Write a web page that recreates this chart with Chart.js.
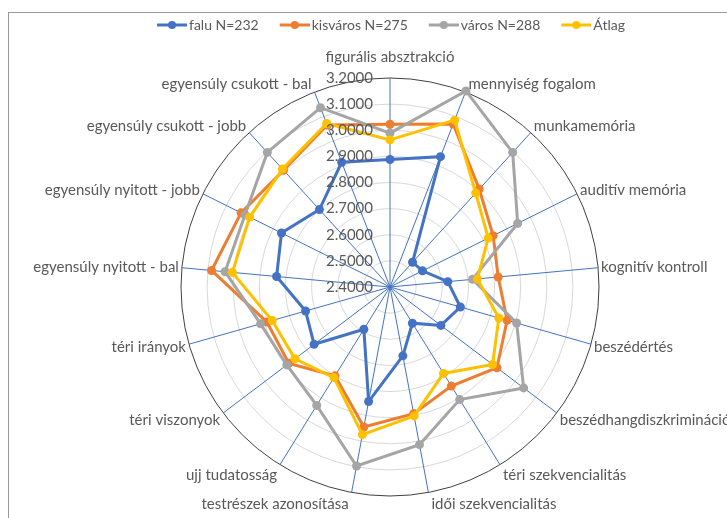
<!DOCTYPE html>
<html><head><meta charset="utf-8">
<script src="https://cdn.jsdelivr.net/npm/chart.js@4"></script>
<style>html,body{margin:0;padding:0;background:#fff}#wrap{width:727px;height:518px;position:relative}</style>
</head><body><div id="wrap"><canvas id="c"></canvas></div>
<script>
const categories = [
  'figurális absztrakció','mennyiség fogalom','munkamemória','auditív memória',
  'kognitív kontroll','beszédértés','beszédhangdiszkrimináció','téri szekvencialitás',
  'idői szekvencialitás','testrészek azonosítása','ujj tudatosság','téri viszonyok',
  'téri irányok','egyensúly nyitott - bal','egyensúly nyitott - jobb',
  'egyensúly csukott - jobb','egyensúly csukott - bal'
];
const faluValues     = [2.888, 2.935, 2.528, 2.539, 2.622, 2.680, 2.644, 2.563, 2.668, 2.846, 2.590, 2.764, 2.736, 2.836, 2.864, 2.801, 2.912];
const kisvarosValues = [3.023, 3.069, 2.907, 2.841, 2.816, 2.866, 2.913, 2.846, 2.893, 2.945, 2.800, 2.885, 2.890, 3.086, 3.037, 3.005, 3.065];
const varosValues    = [2.989, 3.205, 3.097, 2.946, 2.717, 2.904, 3.041, 2.907, 3.014, 3.097, 2.933, 2.895, 2.915, 3.034, 3.020, 3.097, 3.136];
const atlagValues    = [2.963, 3.085, 2.887, 2.820, 2.736, 2.833, 2.892, 2.789, 2.902, 2.975, 2.808, 2.856, 2.869, 3.006, 3.000, 3.011, 3.071];
const seriesNames = ['falu N=232', 'kisváros N=275', 'város N=288', 'Átlag'];
const seriesColors = ['#4472C4', '#ED7D31', '#A5A5A5', '#FFC000'];
const axisMin = 2.4, axisMax = 3.2, axisStep = 0.1;

const seriesValues = [faluValues, kisvarosValues, varosValues, atlagValues];
const FONT = 'Lato';
const FSIZE = 15;
const LEGEND_FSIZE = 14;
const TEXT = '#595959';

function legendImage(color) {
  const c = document.createElement('canvas');
  c.width = 46; c.height = 12;
  const g = c.getContext('2d');
  g.strokeStyle = color; g.lineWidth = 3;
  g.beginPath(); g.moveTo(16, 6); g.lineTo(46, 6); g.stroke();
  g.fillStyle = color;
  g.beginPath(); g.arc(31, 6, 4, 0, Math.PI * 2); g.fill();
  return c;
}
const legendImages = seriesColors.map(legendImage);

const framePlugin = {
  id: 'frame',
  beforeDraw(chart) {
    const ctx = chart.ctx;
    ctx.save();
    ctx.fillStyle = '#fff';
    ctx.fillRect(0, 0, chart.width, chart.height);
    ctx.strokeStyle = '#9a9a9a';
    ctx.lineWidth = 1;
    ctx.strokeRect(8.5, 12.5, chart.width + 20, chart.height + 20);
    ctx.restore();
  }
};

const labelsPlugin = {
  id: 'excelLabels',
  afterDatasetsDraw(chart) {
    const s = chart.scales.r;
    const ctx = chart.ctx;
    ctx.save();
    ctx.font = FSIZE + 'px ' + FONT;
    ctx.fillStyle = TEXT;
    ctx.textAlign = 'right';
    ctx.textBaseline = 'middle';
    s.ticks.forEach(t => {
      const d = s.getDistanceFromCenterForValue(t.value);
      ctx.fillText(t.value.toFixed(4), s.xCenter - 17, s.yCenter - d);
    });
    categories.forEach((lab, i) => {
      const p = s.getPointPosition(i, s.drawingArea);
      const a = p.angle + Math.PI / 2;
      const sn = Math.sin(a), cs = Math.cos(a);
      let x = p.x, y;
      if (Math.abs(sn) < 0.05) {
        ctx.textAlign = 'center';
        y = p.y - 21 * Math.sign(cs);
      } else {
        ctx.textAlign = sn > 0 ? 'left' : 'right';
        x += sn > 0 ? 3 : -3;
        y = p.y - (cs > 0 ? 9 : 12) * cs;
      }
      ctx.fillText(lab, x, y);
    });
    ctx.restore();
  }
};

new Chart(document.getElementById('c'), {
  type: 'radar',
  data: {
    labels: categories,
    datasets: seriesValues.map((v, i) => ({
      label: seriesNames[i],
      data: v,
      borderColor: seriesColors[i],
      backgroundColor: seriesColors[i],
      pointBackgroundColor: seriesColors[i],
      pointBorderColor: seriesColors[i],
      pointRadius: 4.5,
      pointBorderWidth: 0,
      borderWidth: 3,
      fill: false,
      order: seriesValues.length - i
    }))
  },
  options: {
    responsive: true,
    maintainAspectRatio: false,
    animation: false,
    devicePixelRatio: 1,
    layout: { padding: { top: 8, left: 44, right: 0, bottom: 0 } },
    plugins: {
      tooltip: { enabled: false },
      legend: {
        position: 'top',
        labels: {
          font: { family: FONT, size: LEGEND_FSIZE },
          color: TEXT,
          usePointStyle: true,
          pointStyleWidth: 36,
          padding: 10,
          sort: (a, b) => a.datasetIndex - b.datasetIndex,
          generateLabels(chart) {
            const items = Chart.defaults.plugins.legend.labels.generateLabels(chart);
            items.forEach(it => { it.pointStyle = legendImages[it.datasetIndex]; it.lineWidth = 0; });
            return items;
          }
        }
      }
    },
    scales: {
      r: {
        min: axisMin,
        max: axisMax,
        ticks: { stepSize: axisStep, display: false },
        grid: {
          circular: true,
          lineWidth: 1,
          color: c => (c.tick && c.tick.value >= axisMax - 1e-9) ? '#404040' : '#d9d9d9'
        },
        angleLines: { color: '#4472C4', lineWidth: 1 },
        pointLabels: { display: false },
        afterFit(s) { s.setCenterPoint(0, 0, 0, 0); s.xCenter = 390; s.yCenter = 287; s.drawingArea = 209; }
      }
    }
  },
  plugins: [framePlugin, labelsPlugin]
});
</script></body></html>
